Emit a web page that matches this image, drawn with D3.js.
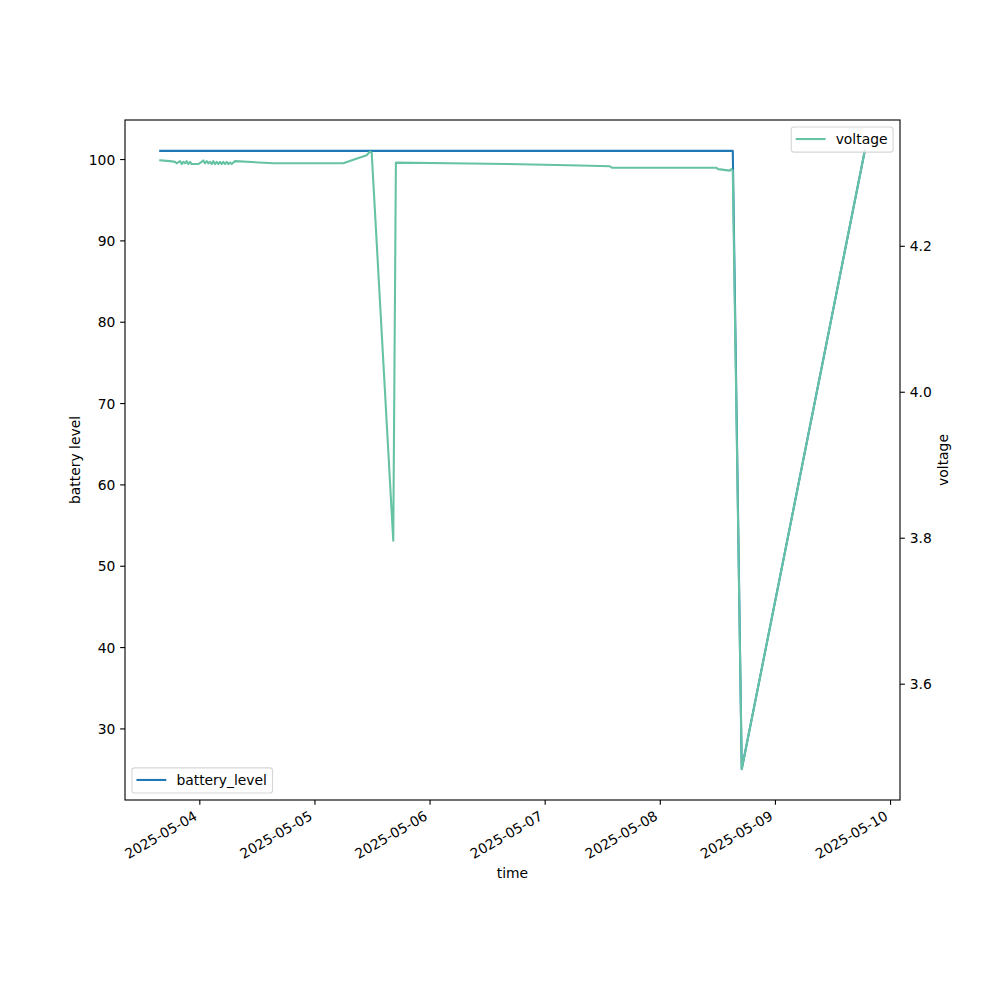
<!DOCTYPE html>
<html><head><meta charset="utf-8">
<script src="https://cdn.jsdelivr.net/npm/d3@7"></script>
<style>
body{margin:0;background:#fff}
svg{display:block}
text{font-family:"DejaVu Sans",sans-serif;}
</style>
</head><body>
<svg id="c" width="1000" height="1000"></svg>
<script>
// ---- data ----
const times = [
  "2025-05-03T15:51","2025-05-03T17:54","2025-05-03T18:56","2025-05-03T19:17","2025-05-03T19:59",
  "2025-05-03T20:20","2025-05-03T20:40","2025-05-03T21:01","2025-05-03T21:22","2025-05-03T21:42",
  "2025-05-03T22:04","2025-05-03T22:25","2025-05-03T23:06","2025-05-03T23:47","2025-05-04T00:30",
  "2025-05-04T00:50","2025-05-04T01:11","2025-05-04T01:33","2025-05-04T01:53","2025-05-04T02:14",
  "2025-05-04T02:35","2025-05-04T02:55","2025-05-04T03:16","2025-05-04T03:38","2025-05-04T03:58",
  "2025-05-04T04:19","2025-05-04T04:40","2025-05-04T05:00","2025-05-04T05:21","2025-05-04T05:43",
  "2025-05-04T06:03","2025-05-04T06:24","2025-05-04T06:45","2025-05-04T07:26","2025-05-04T15:25",
  "2025-05-05T06:00","2025-05-05T10:53","2025-05-05T11:34","2025-05-05T11:56","2025-05-05T16:26",
  "2025-05-05T16:59","2025-05-06T04:14","2025-05-06T16:20","2025-05-07T07:20","2025-05-07T13:35",
  "2025-05-07T14:00","2025-05-08T11:49","2025-05-08T12:09","2025-05-08T14:35","2025-05-08T14:57",
  "2025-05-08T15:13","2025-05-08T17:05","2025-05-09T18:44"
];
const batteryLevel = [
  101,101,101,101,101, 101,101,101,101,101,
  101,101,101,101,101, 101,101,101,101,101,
  101,101,101,101,101, 101,101,101,101,101,
  101,101,101,101,101, 101,101,101,101,101,
  101,101,101,101,101, 101,101,101,101,101,
  101,25,101
];
const voltage = [
  4.317,4.316,4.315,4.313,4.316, 4.312,4.315,4.313,4.316,4.312,
  4.315,4.312,4.312,4.312,4.315, 4.317,4.313,4.316,4.313,4.315,
  4.312,4.316,4.312,4.315,4.312, 4.315,4.312,4.315,4.312,4.315,
  4.312,4.314,4.312,4.316,4.313, 4.313,4.324,4.329,4.328,3.796,
  4.314,4.313,4.312,4.310,4.309, 4.307,4.307,4.305,4.303,4.305,
  4.303,3.483,4.330
];
const xTickLabels = ["2025-05-04","2025-05-05","2025-05-06","2025-05-07","2025-05-08","2025-05-09","2025-05-10"];
const leftTicks = [30,40,50,60,70,80,90,100];
const rightTicks = [3.6,3.8,4.0,4.2];

// ---- layout ----
const L=125,R=900,T=120,B=800;
const FS=13.89, TL=4.86, TP=4.86, LW=2.08;
const BLUE="#1f77b4", GREEN="#66c2a5";

const parse = d3.utcParse("%Y-%m-%dT%H:%M");
const parseDay = d3.utcParse("%Y-%m-%d");
const t = times.map(parse);
function pad(ext){const r=ext[1]-ext[0];return [ext[0]-0.05*r, ext[1]+0.05*r];}
const x = d3.scaleUtc().domain(pad(d3.extent(t).map(Number))).range([L,R]);
const yL = d3.scaleLinear().domain(pad(d3.extent(batteryLevel))).range([B,T]);
const yR = d3.scaleLinear().domain(pad(d3.extent(voltage))).range([B,T]);

const svg = d3.select("#c");
svg.append("rect").attr("width",1000).attr("height",1000).attr("fill","#fff");

function styleAxis(g){
  g.select(".domain").remove();
  g.selectAll(".tick line").attr("stroke","#000").attr("stroke-width",1.11);
  g.selectAll(".tick text").attr("fill","#000").style("font-size",FS+"px").style("font-family","DejaVu Sans");
}

// ---- ax1: battery ----
const ax1 = svg.append("g");
ax1.append("path")
  .datum(t.map((d,i)=>[d,batteryLevel[i]]))
  .attr("fill","none").attr("stroke",BLUE).attr("stroke-width",LW)
  .attr("stroke-linejoin","round").attr("stroke-linecap","square")
  .attr("d", d3.line().x(d=>x(d[0])).y(d=>yL(d[1])));

const gx = ax1.append("g").attr("transform",`translate(0,${B})`)
  .call(d3.axisBottom(x).tickValues(xTickLabels.map(parseDay)).tickFormat(d3.utcFormat("%Y-%m-%d"))
        .tickSize(TL).tickSizeOuter(0));
styleAxis(gx);
gx.selectAll(".tick text")
  .attr("x",0).attr("y",0).attr("dy",null)
  .attr("text-anchor","end")
  .attr("transform",`translate(-1.6,${TL+TP+9.2}) rotate(-30)`);

const gyL = ax1.append("g").attr("transform",`translate(${L},0)`)
  .call(d3.axisLeft(yL).tickValues(leftTicks).tickFormat(d3.format("d")).tickSize(TL).tickPadding(TP).tickSizeOuter(0));
styleAxis(gyL);
gyL.selectAll(".tick text").attr("dy","0.36em");

ax1.append("text").attr("transform",`translate(80.1,${(T+B)/2}) rotate(-90)`)
  .attr("text-anchor","middle").style("font-size",FS+"px").text("battery level");
ax1.append("text").attr("x",(L+R)/2).attr("y",878.1)
  .attr("text-anchor","middle").style("font-size",FS+"px").text("time");

function legend(g, label, color, corner){
  const bp=0.4*FS, hl=2*FS, htp=0.8*FS, pad=0.5*FS;
  const tmp = g.append("text").style("font-size",FS+"px").text(label);
  const tw = tmp.node().getComputedTextLength();
  tmp.remove();
  const w = bp+hl+htp+tw+bp, h = 25.2;
  const x0 = corner==="ur" ? R-pad-w : L+pad;
  const y0 = corner==="ur" ? T+pad : B-pad-h;
  const lg = g.append("g");
  lg.append("rect").attr("x",x0).attr("y",y0).attr("width",w).attr("height",h).attr("rx",2.8)
    .attr("fill","#fff").attr("fill-opacity",0.8).attr("stroke","#ccc").attr("stroke-opacity",0.8).attr("stroke-width",1.11);
  lg.append("line").attr("x1",x0+bp).attr("x2",x0+bp+hl).attr("y1",y0+h/2-0.5).attr("y2",y0+h/2-0.5)
    .attr("stroke",color).attr("stroke-width",LW).attr("stroke-linecap","square");
  lg.append("text").attr("x",x0+bp+hl+htp).attr("y",y0+h/2+4.6)
    .style("font-size",FS+"px").attr("fill","#000").text(label);
}
legend(ax1,"battery_level",BLUE,"ll");

// ---- ax2: voltage ----
const ax2 = svg.append("g");
ax2.append("path")
  .datum(t.map((d,i)=>[d,voltage[i]]))
  .attr("fill","none").attr("stroke",GREEN).attr("stroke-width",LW)
  .attr("stroke-linejoin","round").attr("stroke-linecap","square")
  .attr("d", d3.line().x(d=>x(d[0])).y(d=>yR(d[1])));

const gyR = ax2.append("g").attr("transform",`translate(${R},0)`)
  .call(d3.axisRight(yR).tickValues(rightTicks).tickFormat(d3.format(".1f")).tickSize(TL).tickPadding(TP).tickSizeOuter(0));
styleAxis(gyR);
gyR.selectAll(".tick text").attr("dy","0.36em");

ax2.append("text").attr("transform",`translate(948,${(T+B)/2}) rotate(-90)`)
  .attr("text-anchor","middle").style("font-size",FS+"px").text("voltage");

ax2.append("rect").attr("x",L).attr("y",T).attr("width",R-L).attr("height",B-T)
  .attr("fill","none").attr("stroke","#000").attr("stroke-width",1.11);

legend(ax2,"voltage",GREEN,"ur");
</script>
</body></html>
